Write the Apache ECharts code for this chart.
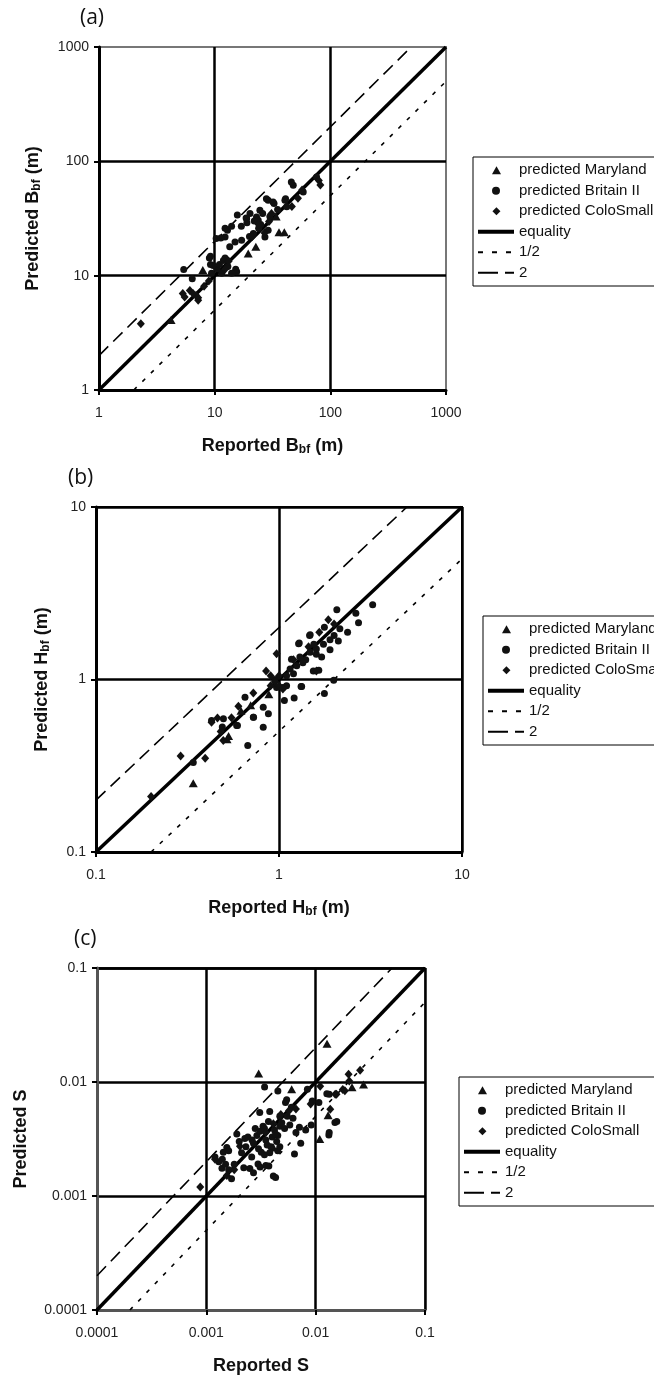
<!DOCTYPE html>
<html><head><meta charset="utf-8">
<script src="https://cdn.jsdelivr.net/npm/echarts@6/dist/echarts.min.js"></script>
<style>html,body{margin:0;padding:0;background:#fff}#c{width:654px;height:1376px}</style>
</head><body><div id="c"></div>
<script>
// ---------- DATA ----------
const seriesNames = ['predicted Maryland','predicted Britain II','predicted ColoSmall','equality','1/2','2'];

// Panel (a): bankfull width B (m)
const aMaryland = [[4.2,4.1],[7.9,11.2],[19.5,15.6],[22.7,17.9],[36,24],[40,24],[34,33]];
const aBritain = [[5.4,11.3],[6.4,9.4],[9.0,14.3],[10.3,21.1],[12.3,21.8],[12.9,25],[15.7,34],[15,19.7],[17.1,20.4],[12.7,13.7],[15.5,10.8],[11.5,10.5],[9.4,10.5],[18.9,31.6],[20.2,34.9],[23,32.6],[24.6,37.3],[29,45.7],[32.6,42.7],[21.6,23.4],[27.2,21.8],[29,25],[40.5,45.7],[47.8,61.7],[46,66],[58.3,54],[76,73],[28,47],[32,44],[41,47],[18.7,32],[12.3,26],[14,27],[11.3,21.4],[9.2,14.8],[9.2,12.5],[15.2,11.4],[12.3,14.3],[13.5,17.9],[10.5,11.5],[11,12.5],[13,12],[14,10.5],[17,27],[19,29],[22,30],[25,28],[26,35],[30,33],[35,38],[42,40],[20,22],[24,26],[11.9,13.6],[9.7,12.3],[23.8,30.5]];
const aColoSmall = [[2.3,3.8],[5.3,7.0],[6.1,7.4],[6.9,6.7],[7.2,6.4],[5.5,6.5],[6.5,7.0],[7.2,6.1],[8.1,8.1],[8.9,9.0],[12.3,11.4],[13.2,13.4],[21.1,22],[27,23.6],[29.5,29.8],[46.5,40.2],[52.5,47.5],[57,56],[79.5,68],[82,62],[24,28],[31,35]];
const aEquality = [[1,1],[1000,1000]];
const aHalf = [[2,1],[1000,500]];
const aDouble = [[1,2],[500,1000]];

// Panel (b): bankfull depth H (m)
const bMaryland = [[0.34,0.25],[0.52,0.45],[0.53,0.47],[0.62,0.66],[0.70,0.71],[0.88,0.82]];
const bBritain = [[0.34,0.33],[0.675,0.414],[0.82,0.529],[0.875,0.633],[0.724,0.604],[0.652,0.789],[0.82,0.69],[1.07,0.755],[1.21,0.78],[1.32,0.91],[1.05,0.90],[1.1,0.92],[1.77,0.83],[1.99,0.99],[1.28,1.61],[1.47,1.8],[2.07,2.54],[3.25,2.71],[2.63,2.42],[2.72,2.13],[2.37,1.88],[2.15,1.97],[2.11,1.67],[1.77,2.01],[1.48,1.82],[1.29,1.63],[1.9,1.49],[1.71,1.35],[1.54,1.12],[1.65,1.13],[1.17,1.31],[1.33,0.91],[0.97,0.90],[0.587,0.541],[0.497,0.592],[0.49,0.53],[0.428,0.578],[0.593,0.542],[0.726,0.605],[1.48,1.44],[1.6,1.4],[1.4,1.3],[1.25,1.2],[1.15,1.15],[1.35,1.25],[1.2,1.08],[1.1,1.05],[1.9,1.7],[2.0,1.8],[1.6,1.5],[0.95,1.0],[1.3,1.35],[1.55,1.6],[1.75,1.6]];
const bColoSmall = [[0.2,0.21],[0.29,0.36],[0.395,0.35],[0.428,0.565],[0.461,0.598],[0.496,0.443],[0.48,0.5],[0.724,0.834],[0.97,1.41],[0.85,1.12],[0.9,1.05],[0.95,0.97],[1.0,0.92],[1.05,0.88],[0.9,0.92],[1.0,1.05],[1.86,2.22],[1.66,1.88],[1.6,1.12],[0.55,0.6],[0.6,0.7],[1.2,1.3],[1.45,1.55],[2.0,2.1]];
const bEquality = [[0.1,0.1],[10,10]];
const bHalf = [[0.2,0.1],[10,5]];
const bDouble = [[0.1,0.2],[5,10]];

// Panel (c): slope S
const cMaryland = [[0.0127,0.0217],[0.00301,0.0119],[0.00603,0.00863],[0.0274,0.0095],[0.0215,0.009],[0.013,0.0051],[0.0109,0.00316],[0.0041,0.00267]];
const cBritain = [[0.00341,0.00904],[0.00451,0.00835],[0.00543,0.00697],[0.0084,0.00863],[0.01265,0.00787],[0.0107,0.0066],[0.015,0.00441],[0.0132,0.00343],[0.0091,0.0042],[0.0081,0.0038],[0.0066,0.0036],[0.0073,0.0029],[0.0064,0.00234],[0.0047,0.0027],[0.00373,0.00183],[0.0041,0.0015],[0.0043,0.00145],[0.00297,0.00191],[0.0035,0.00185],[0.0025,0.00174],[0.0022,0.00177],[0.0017,0.00142],[0.00139,0.00175],[0.0015,0.0019],[0.0019,0.0035],[0.00308,0.0054],[0.0038,0.0055],[0.0033,0.0041],[0.0053,0.0066],[0.0055,0.005],[0.0047,0.0041],[0.0035,0.0031],[0.004,0.0033],[0.0044,0.003],[0.00318,0.00242],[0.0034,0.0023],[0.0047,0.005],[0.00262,0.0031],[0.0028,0.0039],[0.00225,0.0032],[0.002,0.003],[0.00154,0.00267],[0.00143,0.00242],[0.0093,0.00683],[0.006,0.006],[0.0071,0.004],[0.0156,0.0045],[0.0133,0.0036],[0.0133,0.0078],[0.0037,0.0045],[0.0042,0.0038],[0.0030,0.0026],[0.0026,0.0022],[0.0045,0.0034],[0.0039,0.0027],[0.0012,0.0022],[0.0016,0.0025],[0.0052,0.0039],[0.0013,0.002],[0.0014,0.0021],[0.0016,0.0017],[0.0018,0.0019],[0.0021,0.0024],[0.0023,0.0027],[0.0024,0.0033],[0.0027,0.0029],[0.0029,0.0034],[0.0031,0.0037],[0.0034,0.0039],[0.0036,0.0028],[0.0038,0.0024],[0.0043,0.0035],[0.0049,0.0044],[0.0058,0.0042],[0.0062,0.0048],[0.0031,0.0018],[0.0027,0.0016],[0.0045,0.0025]];
const cColoSmall = [[0.00088,0.0012],[0.00203,0.00273],[0.02,0.0117],[0.0255,0.0127],[0.0203,0.0102],[0.0177,0.0086],[0.0151,0.0078],[0.0136,0.00578],[0.009,0.0064],[0.011,0.0092],[0.0041,0.0043],[0.0057,0.0056],[0.0066,0.0058],[0.0018,0.0017],[0.00154,0.00151],[0.0185,0.0084],[0.0155,0.0078],[0.0012,0.0021],[0.0048,0.0052],[0.0035,0.0036]];
const cEquality = [[0.0001,0.0001],[0.1,0.1]];
const cHalf = [[0.0002,0.0001],[0.1,0.05]];
const cDouble = [[0.0001,0.0002],[0.05,0.1]];

const panelLabels = ['(a)','(b)','(c)'];
const xTitles = ['{b|Reported B}{s|bf}{b| (m)}','{b|Reported H}{s|bf}{b| (m)}','{b|Reported S}'];
const yTitles = ['{b|Predicted B}{s|bf}{b| (m)}','{b|Predicted H}{s|bf}{b| (m)}','{b|Predicted S}'];
const ranges = [[1,1000],[0.1,10],[0.0001,0.1]];

// ---------- LAYOUT ----------
const FONT = '"Liberation Sans", Arial, sans-serif';
const grids = [
  {left:99, top:47, width:347, height:343},
  {left:96, top:507, width:366, height:345},
  {left:97, top:968, width:328, height:345}
];
const yNameGap = [55, 43, 65];
const legendPos = [{left:473, top:157},{left:483, top:616},{left:459, top:1077}];
const labelPos = [{left:80, top:8},{left:68, top:468},{left:74, top:929}];
const scatterData = [[aMaryland,aBritain,aColoSmall],[bMaryland,bBritain,bColoSmall],[cMaryland,cBritain,cColoSmall]];
const lineData = [[aEquality,aHalf,aDouble],[bEquality,bHalf,bDouble],[cEquality,cHalf,cDouble]];

// legend marker icons padded to the 36x8 icon box so they keep their shape
const legendIcons = [
  'path://M0,0M36,8M18.5,0L23,8L14,8Z',
  'circle',
  'path://M0,0M36,8M18.5,-0.5L23,4L18.5,8.5L14,4Z'
];

const fmt = v => String(+Number(v).toPrecision(4));
const rich = {
  b:{fontSize:18, fontWeight:'bold', fontFamily:FONT, color:'#111', lineHeight:22},
  s:{fontSize:12, fontWeight:'bold', fontFamily:FONT, color:'#111', lineHeight:22, padding:[8,0,0,0]}
};

const option = {
  animation:false,
  backgroundColor:'#fff',
  title: panelLabels.map((t,i)=>({text:t, left:labelPos[i].left, top:labelPos[i].top, padding:0,
    textStyle:{fontSize:21, fontWeight:'normal', fontFamily:'"Open Sans", "Noto Sans", sans-serif', color:'#111'}})),
  grid: grids.map((g,i)=>Object.assign({}, g, {show:true, borderColor: i===1?'#000':'#777', borderWidth:2, containLabel:false})),
  xAxis: ranges.map((r,i)=>({
    type:'log', logBase:10, gridIndex:i, min:r[0], max:r[1],
    name:xTitles[i], nameLocation:'middle', nameGap:45, nameTextStyle:{rich},
    axisLine:{show:true, onZero:false, lineStyle:{color: i===2?'#555':'#000', width:3}},
    axisTick:{show:true, inside:false, length:5, lineStyle:{color:'#000', width:2}},
    minorTick:{show:false},
    axisLabel:{fontSize:14, color:'#222', fontFamily:FONT, margin:16, formatter:fmt},
    splitLine:{show:true, showMinLine:false, showMaxLine: i===1, lineStyle:{color:'#000', width:2.5}}
  })),
  yAxis: ranges.map((r,i)=>({
    type:'log', logBase:10, gridIndex:i, min:r[0], max:r[1],
    name:yTitles[i], nameLocation:'middle', nameGap:yNameGap[i], nameTextStyle:{rich},
    axisLine:{show:true, onZero:false, lineStyle:{color: i===2?'#555':'#000', width:3}},
    axisTick:{show:true, inside:false, length:5, lineStyle:{color:'#000', width:2}},
    minorTick:{show:false},
    axisLabel:{fontSize:14, color:'#222', fontFamily:FONT, margin:10, formatter:fmt},
    splitLine:{show:true, showMinLine:false, showMaxLine: i!==0, lineStyle:{color:'#000', width:2.5}}
  })),
  legend: legendPos.map((p,i)=>({
    orient:'vertical', left:p.left, top:p.top,
    itemWidth:36, itemHeight:8, itemGap:0,
    padding:[3,24,3,3],
    borderColor:'#000', borderWidth:1, backgroundColor:'#fff',
    selectedMode:false,
    textStyle:{fontSize:15, fontFamily:FONT, color:'#111', lineHeight:20.5},
    data:[
      {name:seriesNames[0], icon:legendIcons[0]},
      {name:seriesNames[1], icon:legendIcons[1]},
      {name:seriesNames[2], icon:legendIcons[2]},
      {name:seriesNames[3], itemStyle:{opacity:0}, lineStyle:{width:4, type:'solid', color:'#000'}},
      {name:seriesNames[4], itemStyle:{opacity:0}, lineStyle:{width:2, type:[5,9], color:'#000'}},
      {name:seriesNames[5], itemStyle:{opacity:0}, lineStyle:{width:2, type:[20,7], color:'#000'}}
    ]
  })),
  series: []
};

const symbols = ['triangle','circle','diamond'];
const symSizes = [[9,8],7,[8,9]];
for (let i=0;i<3;i++){
  const lines = lineData[i];
  const lineStyles = [
    {color:'#000', width:3.5, type:'solid'},
    {color:'#000', width:1.6, type:[4,8]},
    {color:'#000', width:1.6, type:[13,7]}
  ];
  for (let k=0;k<3;k++){
    option.series.push({
      name:seriesNames[3+k], type:'line', xAxisIndex:i, yAxisIndex:i,
      data:lines[k], symbol:'none', showSymbol:false, silent:true, z:2,
      lineStyle:lineStyles[k], itemStyle:{color:'#000'}
    });
  }
  for (let k=0;k<3;k++){
    option.series.push({
      name:seriesNames[k], type:'scatter', xAxisIndex:i, yAxisIndex:i,
      data:scatterData[i][k], symbol:symbols[k], symbolSize:symSizes[k], z:3,
      itemStyle:{color:'#111', opacity:1}
    });
  }
}

const chart = echarts.init(document.getElementById('c'), null, {renderer:'canvas'});
chart.setOption(option);
</script>
</body></html>
